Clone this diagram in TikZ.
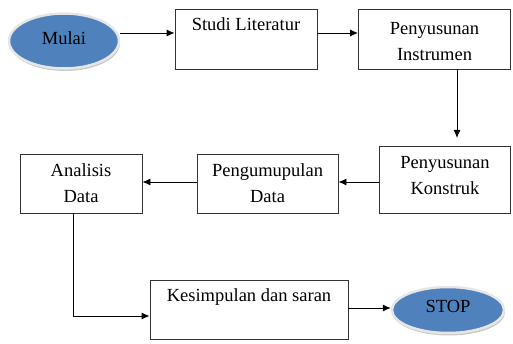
\documentclass[tikz,border=0pt]{standalone}
\usepackage{fontspec}
\setmainfont{Liberation Serif}
\usetikzlibrary{arrows.meta,shapes.geometric,shadows}
\definecolor{obblue}{HTML}{4F81BD}
\definecolor{rimgray}{HTML}{E6E6E6}
\begin{document}
\begin{tikzpicture}[x=1pt,y=-1pt,
  boxs/.style={draw=black!80, line width=0.9pt, inner sep=0pt},
  oval/.style={ellipse, fill=obblue, draw=rimgray, line width=2.5pt,
     drop shadow={shadow xshift=1pt, shadow yshift=-2.5pt, fill=black!35, opacity=0.6},
     inner sep=0pt},
  txt/.style={font=\fontsize{18.5}{26}\selectfont, align=center, inner sep=0pt},
  arr/.style={-{Latex[length=8pt,width=7pt]}, line width=0.9pt, black}]
\useasboundingbox (0,0) rectangle (513,344);
% boxes
\node[boxs, minimum width=142pt, minimum height=60pt] (studi) at (246,39) {};
\node[txt, anchor=north] (studit) at (246,17) {Studi Literatur};
\node[boxs, minimum width=152pt, minimum height=60pt] (instr) at (434.5,39) {};
\node[txt] (instrt) at (434.5,42) {Penyusunan\\Instrumen};
\node[boxs, minimum width=131pt, minimum height=67pt] (konst) at (445,179.5) {};
\node[txt] (konstt) at (445,176) {Penyusunan\\Konstruk};
\node[boxs, minimum width=141pt, minimum height=59pt] (kumpul) at (267.5,183.5) {};
\node[txt] (kumpult) at (267.5,183) {Pengumupulan\\Data};
\node[boxs, minimum width=122pt, minimum height=59pt] (anal) at (81,183.5) {};
\node[txt] (analt) at (81,183) {Analisis\\Data};
\node[boxs, minimum width=198pt, minimum height=59pt] (kesim) at (249,309.5) {};
\node[txt, anchor=north] (kesimt) at (249,288) {Kesimpulan dan saran};
% ovals
\node[oval, minimum width=110pt, minimum height=55pt] (mulai) at (64,41) {};
\node[txt] (mulait) at (64,38) {Mulai};
\node[oval, minimum width=112pt, minimum height=46pt] (stop) at (448,310) {};
\node[txt] (stopt) at (448,306) {STOP};
% connectors
\coordinate (a1) at (mulai.east |- 0,33);
\draw[arr] (a1) -- (a1 -| studi.west);
\coordinate (a2) at (studi.east |- 0,33);
\draw[arr] (a2) -- (a2 -| instr.west);
\coordinate (a3) at (457,0 |- instr.south);
\coordinate (a3e) at (457,138);
\draw[arr] (a3) -- (a3e);
\coordinate (a4) at (konst.west |- 0,182);
\draw[arr] (a4) -- (a4 -| kumpul.east);
\coordinate (a5) at (kumpul.west |- 0,182);
\draw[arr] (a5) -- (a5 -| anal.east);
\coordinate (a6) at (73,0 |- anal.south);
\coordinate (a6c) at (73,316);
\draw[arr] (a6) -- (a6c) -- (a6c -| kesim.west);
\coordinate (a7) at (kesim.east |- 0,308);
\draw[arr] (a7) -- (a7 -| stop.west);
\end{tikzpicture}
\end{document}
